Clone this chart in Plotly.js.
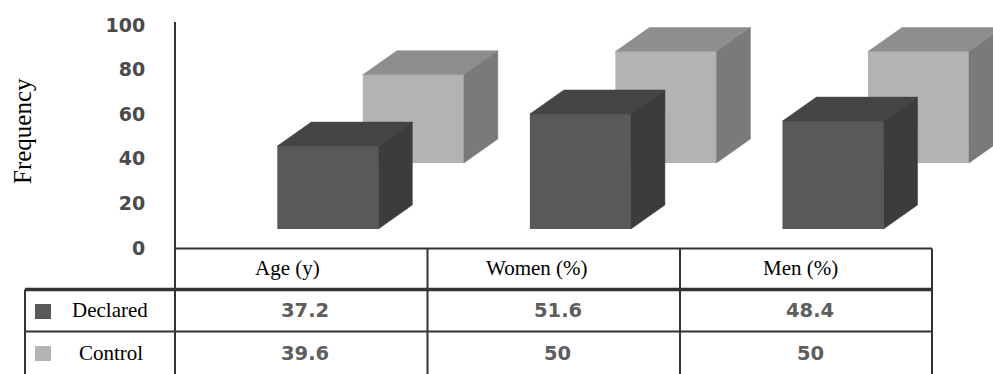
<!DOCTYPE html>
<html>
<head>
<meta charset="utf-8">
<script src="https://cdn.plot.ly/plotly-3.0.1.min.js"></script>
<style>html,body{margin:0;padding:0;background:#fff;}#chart{width:993px;height:374px;}</style>
</head>
<body>
<div id="chart"></div>
<script>
// ---- data ----
const categories = ['Age (y)', 'Women (%)', 'Men (%)'];
const seriesNames = ['Declared', 'Control'];
const declared = [37.2, 51.6, 48.4];
const control = [39.6, 50, 50];
const yTicks = [0, 20, 40, 60, 80, 100];

// ---- style / layout constants ----
const W = 993, H = 374;
const colPx = 252.5;           // px per category
const axisX = 175;             // y axis line
const col0Center = 301.5;
const xRange = [-0.5, (W - col0Center) / colPx];
const yRange = [-56.5, 111.2];
const pxPerUnitY = H / (yRange[1] - yRange[0]);
const barW = 0.4;
const dx = 34 / colPx, dy = 24 / pxPerUnitY;
const series = [
  {name: seriesNames[1], vals: control,  off: 0.2435, base: 38.1, front: '#b3b3b3', top: '#8e8e8e', side: '#7a7a7a'},
  {name: seriesNames[0], vals: declared, off: -0.095, base: 8.5,  front: '#595959', top: '#454545', side: '#3c3c3c'}
];

const px = x => x / W;
const py = y => 1 - y / H;

const traces = [];
series.forEach(s => {
  traces.push({
    type: 'bar', name: s.name, x: categories.map((c, i) => i), y: s.vals, base: s.base,
    width: barW, offset: s.off, marker: {color: s.front, line: {width: 0}}, hoverinfo: 'skip'
  });
});
series.forEach(s => {
  s.vals.forEach((v, i) => {
    const L = i + s.off, R = L + barW, B = s.base, T = s.base + v;
    traces.push({type: 'scatter', mode: 'lines', x: [L, R, R + dx, L + dx, L], y: [T, T, T + dy, T + dy, T],
      fill: 'toself', fillcolor: s.top, line: {width: 0.5, color: s.top}, hoverinfo: 'skip'});
    traces.push({type: 'scatter', mode: 'lines', x: [R, R, R + dx, R + dx, R], y: [B, T, T + dy, B + dy, B],
      fill: 'toself', fillcolor: s.side, line: {width: 0.5, color: s.side}, hoverinfo: 'skip'});
  });
});

// ---- table shapes ----
const lc = '#333';
const line = (x0, y0, x1, y1, w) => ({type: 'line', xref: 'paper', yref: 'paper',
  x0: px(x0), y0: py(y0), x1: px(x1), y1: py(y1), line: {color: lc, width: w}});
const colEdges = [axisX, 427.5, 680, 932];
const shapes = [
  line(axisX, 22, axisX, H, 2),
  line(axisX, 248.5, 932, 248.5, 2),
  line(932, 248.5, 932, H, 2),
  line(427.5, 248.5, 427.5, H, 2),
  line(680, 248.5, 680, H, 2),
  line(25, 289.5, 932, 289.5, 3.5),
  line(25, 331.5, 932, 331.5, 2),
  line(25, 289.5, 25, H, 2),
  {type: 'rect', xref: 'paper', yref: 'paper', x0: px(35), x1: px(51), y0: py(304), y1: py(319),
    fillcolor: series[1].front, line: {width: 0}},
  {type: 'rect', xref: 'paper', yref: 'paper', x0: px(35), x1: px(51), y0: py(346), y1: py(361),
    fillcolor: series[0].front, line: {width: 0}}
];

// ---- text ----
const serif = {family: 'Liberation Serif, Times New Roman, serif', size: 21, color: '#000'};
const valFont = {family: 'DejaVu Sans, sans-serif', size: 19.5, color: '#5e5e5e', weight: 'bold'};
const headerShift = [-14, -17, -6];
const annotations = [];
const colCenter = i => (colEdges[i] + colEdges[i + 1]) / 2;
categories.forEach((c, i) => {
  annotations.push({xref: 'paper', yref: 'paper', x: px(colCenter(i) + headerShift[i]), y: py(268),
    text: c, showarrow: false, font: serif, xanchor: 'center', yanchor: 'middle'});
  annotations.push({xref: 'paper', yref: 'paper', x: px(colCenter(i) + 4), y: py(310),
    text: String(declared[i]), showarrow: false, font: valFont, xanchor: 'center', yanchor: 'middle'});
  annotations.push({xref: 'paper', yref: 'paper', x: px(colCenter(i) + 4), y: py(353),
    text: String(control[i]), showarrow: false, font: valFont, xanchor: 'center', yanchor: 'middle'});
});
annotations.push({xref: 'paper', yref: 'paper', x: px(110), y: py(310), text: seriesNames[0],
  showarrow: false, font: serif, xanchor: 'center', yanchor: 'middle'});
annotations.push({xref: 'paper', yref: 'paper', x: px(111), y: py(353), text: seriesNames[1],
  showarrow: false, font: serif, xanchor: 'center', yanchor: 'middle'});
annotations.push({xref: 'paper', yref: 'paper', x: px(22), y: py(131), text: 'Frequency', textangle: -90,
  showarrow: false, font: {family: 'Liberation Serif, Times New Roman, serif', size: 25, color: '#000'},
  xanchor: 'center', yanchor: 'middle'});

const layout = {
  width: W, height: H, margin: {l: 0, r: 0, t: 0, b: 0},
  paper_bgcolor: '#fff', plot_bgcolor: 'rgba(0,0,0,0)',
  showlegend: false, barmode: 'overlay',
  xaxis: {domain: [axisX / W, 1], range: xRange, visible: false, fixedrange: true},
  yaxis: {range: yRange, tickvals: yTicks, ticktext: yTicks.map(String), showgrid: false, zeroline: false,
    showline: false, ticks: 'outside', ticklen: 25, tickcolor: 'rgba(0,0,0,0)',
    tickfont: {family: 'DejaVu Sans, sans-serif', size: 19, color: '#4a4a4a', weight: 'bold'}, fixedrange: true},
  shapes: shapes, annotations: annotations
};

Plotly.newPlot('chart', traces, layout, {staticPlot: true, displayModeBar: false});
</script>
</body>
</html>
